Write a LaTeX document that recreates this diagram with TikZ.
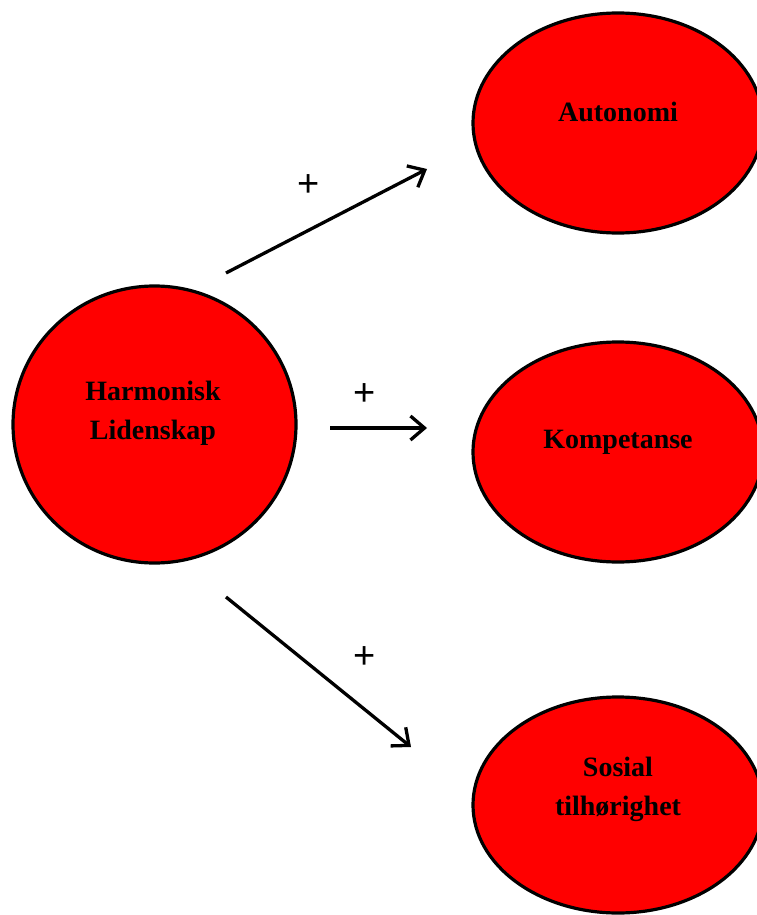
\documentclass[tikz,border=0pt]{standalone}
\usepackage{fontspec}
\setmainfont{Liberation Serif}
\newfontfamily\signfont{Liberation Sans}
\usetikzlibrary{shapes.geometric,arrows.meta}
\begin{document}
\begin{tikzpicture}[x=1pt,y=-1pt,
  bubble/.style={ellipse,draw=black,line width=3.2pt,fill=red,inner sep=0pt},
  caption/.style={font=\fontsize{28}{39}\selectfont\bfseries,align=center,inner sep=0pt},
  link/.style={line width=3.3pt,-{Straight Barb[length=14pt,width=24pt,line width=3.3pt]}},
  sign/.style={font=\signfont\fontsize{38}{38}\selectfont,inner sep=0pt}]
\useasboundingbox (0,0) rectangle (757,915);
\fill[white] (0,0) rectangle (757,915);
\clip (0,0) rectangle (757,915);

% source and the three outcomes
\node[bubble,minimum width=283pt,minimum height=277pt] (harm) at (154.5,424.5) {};
\node[bubble,minimum width=290pt,minimum height=220pt] (auto) at (618,123) {};
\node[bubble,minimum width=290pt,minimum height=220pt] (komp) at (618,452) {};
\node[bubble,minimum width=290pt,minimum height=216pt] (sos) at (618,805) {};

% labels inside the bubbles
\node[caption] (harm-t) at (153,413) {Harmonisk\\Lidenskap};
\node[caption] (auto-t) at (618,112) {Autonomi};
\node[caption] (komp-t) at (618,442) {Kompetanse};
\node[caption] (sos-t) at (618,789) {Sosial\\tilhørighet};

% arrow ends
\coordinate (a1s) at (226,273);
\coordinate (a1e) at (427,169);
\coordinate (a2s) at (330,428);
\coordinate (a2e) at (427,428);
\coordinate (a3s) at (226,597);
\coordinate (a3e) at (411,747);

\draw[link] (a1s) -- (a1e);
\draw[link] (a2s) -- (a2e);
\draw[link] (a3s) -- (a3e);

% signs on the arrows
\node[sign] (p1) at (309,186) {+};
\node[sign] (p2) at (365,395) {+};
\node[sign] (p3) at (365,658) {+};
\end{tikzpicture}
\end{document}
